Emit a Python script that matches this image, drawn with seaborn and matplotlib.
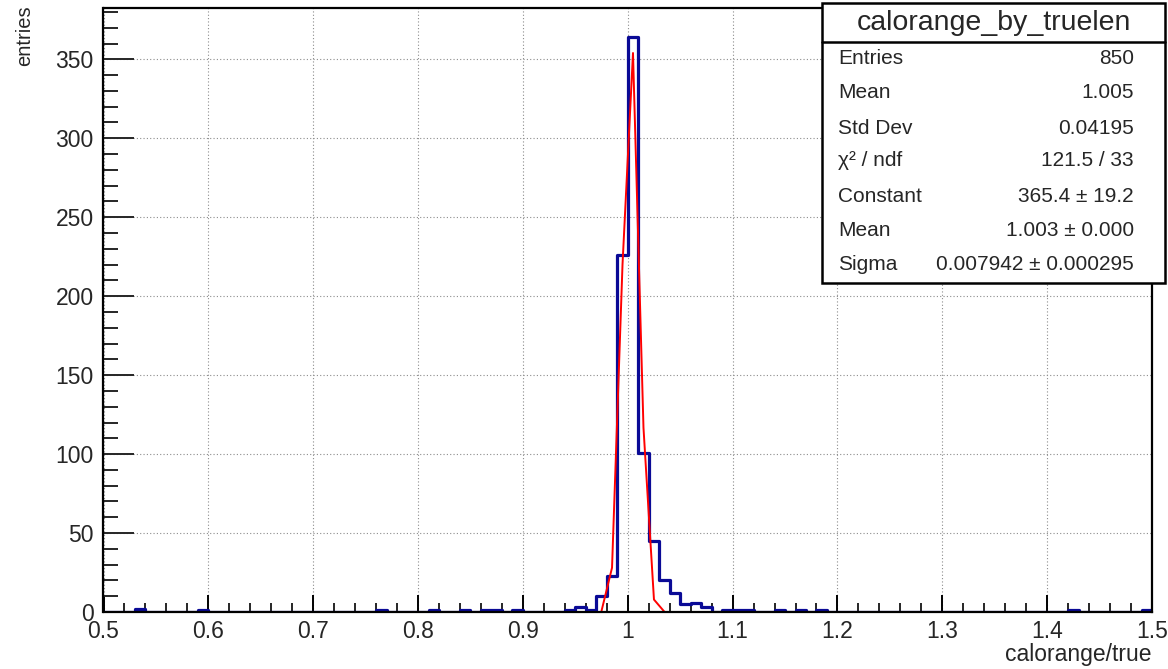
import numpy as np
import pandas as pd
import matplotlib
matplotlib.use("Agg")
import matplotlib.pyplot as plt
from matplotlib.patches import Rectangle
from matplotlib.ticker import MultipleLocator
import seaborn as sns

# ---- histogram contents (bin width 0.01 on [0.5, 1.5]) ----
bin_low = [0.53, 0.59, 0.76, 0.81, 0.84, 0.86, 0.87, 0.89, 0.94, 0.95,
           0.96, 0.97, 0.98, 0.99, 1.00, 1.01, 1.02, 1.03, 1.04, 1.05,
           1.06, 1.07, 1.09, 1.10, 1.11, 1.14, 1.16, 1.18, 1.42, 1.49]
counts = [2, 1, 1, 1, 1, 1, 1, 1, 1, 3,
          1, 10, 23, 226, 364, 101, 45, 20, 12, 5,
          6, 3, 1, 1, 1, 1, 1, 1, 1, 1]

x_min, x_max, n_bins = 0.5, 1.5, 100

# ---- gaussian fit result ----
fit_const, fit_mean, fit_sigma = 365.4, 1.003, 0.007942
fit_lo, fit_hi = 0.97, 1.04

# ---- statistics box ----
stats_title = "calorange_by_truelen"
stats_names = ["Entries", "Mean", "Std Dev", "χ² / ndf", "Constant", "Mean", "Sigma"]
stats_values = ["850", "1.005", "0.04195", "121.5 / 33", "365.4 ± 19.2",
                "1.003 ± 0.000", "0.007942 ± 0.000295"]

x_ticks = [0.5, 0.6, 0.7, 0.8, 0.9, 1.0, 1.1, 1.2, 1.3, 1.4, 1.5]
x_tick_labels = ["0.5", "0.6", "0.7", "0.8", "0.9", "1", "1.1", "1.2", "1.3", "1.4", "1.5"]
y_ticks = [0, 50, 100, 150, 200, 250, 300, 350]

sns.set_style("ticks")
plt.rcParams["font.family"] = ["Liberation Sans", "DejaVu Sans"]

W, H = 1168, 669
fig = plt.figure(figsize=(W / 100, H / 100), dpi=100)
ax_l, ax_r, ax_t, ax_b = 103.5, 1152, 8, 612
ax = fig.add_axes([ax_l / W, 1 - ax_b / H, (ax_r - ax_l) / W, (ax_b - ax_t) / H])

# full binning
edges = np.round(np.linspace(x_min, x_max, n_bins + 1), 4)
centers = np.round(0.5 * (edges[:-1] + edges[1:]), 4)
weights = np.zeros(n_bins)
for lo, c in zip(bin_low, counts):
    weights[int(round((lo - x_min) / 0.01))] = c
hist_df = pd.DataFrame({"value": centers, "entries": weights})

sns.histplot(data=hist_df, x="value", weights="entries", bins=list(edges),
             element="step", fill=False, color="#0a0a96", linewidth=2.3, ax=ax)

# fitted gaussian, evaluated at bin centres inside the fit range
fx = centers[(centers > fit_lo) & (centers < fit_hi)]
fy = fit_const * np.exp(-0.5 * ((fx - fit_mean) / fit_sigma) ** 2)
fit_df = pd.DataFrame({"value": fx, "fit": fy})
sns.lineplot(data=fit_df, x="value", y="fit", color="#ff0000", linewidth=1.4, ax=ax)

ax.set_xlim(x_min, x_max)
ax.set_ylim(0, 382.5)
ax.set_xticks(x_ticks)
ax.set_xticklabels(x_tick_labels)
ax.set_yticks(y_ticks)
ax.xaxis.set_minor_locator(MultipleLocator(0.02))
ax.yaxis.set_minor_locator(MultipleLocator(10))
ax.tick_params(axis="x", which="major", direction="in", length=12.5, width=1.4,
               labelsize=16.5, pad=6, color="black")
ax.tick_params(axis="x", which="minor", direction="in", length=6.5, width=1.4)
ax.tick_params(axis="y", which="major", direction="in", length=22, width=1.4,
               labelsize=16.5, pad=7)
ax.tick_params(axis="y", which="minor", direction="in", length=11, width=1.4)
ax.grid(True, which="major", linestyle=(0, (1, 2)), color="#8c8c8c", linewidth=0.8)
for side in ["left", "bottom", "top", "right"]:
    ax.spines[side].set_linewidth(1.6)
    ax.spines[side].set_color("black")

ax.set_xlabel("calorange/true", fontsize=16.5, loc="right")
ax.xaxis.set_label_coords(1.0, -0.052)
ax.xaxis.label.set_va("top")
ax.set_ylabel("entries", fontsize=14.5, loc="top")
ax.yaxis.set_label_coords(-0.066, 1.004)

# statistics box
bx0, bx1, by0, by1, bsep = 822, 1165, 3, 283, 42
def fx_(px):
    return px / W
def fy_(py):
    return 1 - py / H

fig.patches.append(Rectangle((fx_(bx0), fy_(by1)), (bx1 - bx0) / W, (by1 - by0) / H,
                             transform=fig.transFigure, facecolor="white",
                             edgecolor="black", linewidth=1.8, zorder=10))
fig.lines.append(plt.Line2D([fx_(bx0), fx_(bx1)], [fy_(bsep), fy_(bsep)],
                            transform=fig.transFigure, color="black", linewidth=1.8,
                            zorder=11))
fig.text(fx_((bx0 + bx1) / 2), fy_((by0 + bsep) / 2 + 1), stats_title, fontsize=20.5,
         ha="center", va="center", zorder=12)
row_y = [59, 93, 128, 160, 196, 231, 265]
for name, val, ry in zip(stats_names, stats_values, row_y):
    fig.text(fx_(838), fy_(ry), name, fontsize=15, ha="left", va="center", zorder=12)
    fig.text(fx_(1134), fy_(ry), val, fontsize=15, ha="right", va="center", zorder=12)

fig.savefig("out.png", dpi=100)
